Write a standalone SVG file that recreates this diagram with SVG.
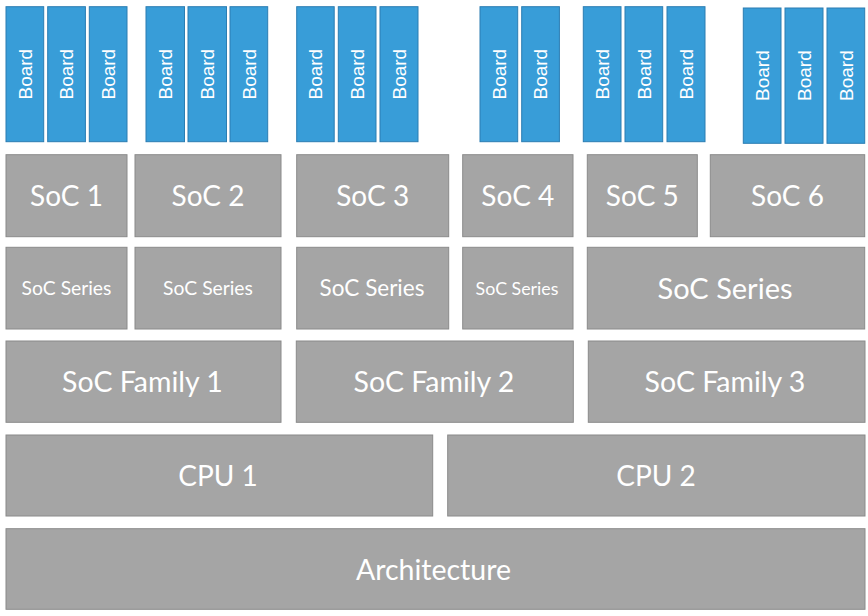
<svg xmlns="http://www.w3.org/2000/svg" width="868" height="616" viewBox="0 0 868 616">
<style>
.b{fill:#389DD8;stroke:#2B7DB2;stroke-width:1}
.g{fill:#A5A5A5;stroke:#8A8A8A;stroke-width:1}
.bt{font-family:"Liberation Sans",Arial,sans-serif;font-size:19px;fill:#fff;text-anchor:middle}
.t{font-family:Lato,"Open Sans",sans-serif;fill:#fff;text-anchor:middle}
</style>
<rect width="868" height="616" fill="#fff"/>
<g id="boards">
<g id="board1"><rect class="b" x="6" y="6.7" width="37.7" height="135"/><text class="bt" transform="translate(24.85,74.2) rotate(-90)" y="6.8">Board</text></g>
<g id="board2"><rect class="b" x="47.7" y="6.7" width="37.7" height="135"/><text class="bt" transform="translate(66.55,74.2) rotate(-90)" y="6.8">Board</text></g>
<g id="board3"><rect class="b" x="89.3" y="6.7" width="37.7" height="135"/><text class="bt" transform="translate(108.15,74.2) rotate(-90)" y="6.8">Board</text></g>
<g id="board4"><rect class="b" x="146" y="6.7" width="38.5" height="135"/><text class="bt" transform="translate(165.25,74.2) rotate(-90)" y="6.8">Board</text></g>
<g id="board5"><rect class="b" x="188" y="6.7" width="38.5" height="135"/><text class="bt" transform="translate(207.25,74.2) rotate(-90)" y="6.8">Board</text></g>
<g id="board6"><rect class="b" x="230" y="6.7" width="37.7" height="135"/><text class="bt" transform="translate(248.85,74.2) rotate(-90)" y="6.8">Board</text></g>
<g id="board7"><rect class="b" x="296.7" y="6.7" width="37.5" height="135"/><text class="bt" transform="translate(315.45,74.2) rotate(-90)" y="6.8">Board</text></g>
<g id="board8"><rect class="b" x="338.3" y="6.7" width="37.7" height="135"/><text class="bt" transform="translate(357.15,74.2) rotate(-90)" y="6.8">Board</text></g>
<g id="board9"><rect class="b" x="380" y="6.7" width="38" height="135"/><text class="bt" transform="translate(399,74.2) rotate(-90)" y="6.8">Board</text></g>
<g id="board10"><rect class="b" x="480" y="6.7" width="37.7" height="135"/><text class="bt" transform="translate(498.85,74.2) rotate(-90)" y="6.8">Board</text></g>
<g id="board11"><rect class="b" x="521.7" y="6.7" width="37.7" height="135"/><text class="bt" transform="translate(540.55,74.2) rotate(-90)" y="6.8">Board</text></g>
<g id="board12"><rect class="b" x="583.3" y="6.7" width="37.7" height="135"/><text class="bt" transform="translate(602.15,74.2) rotate(-90)" y="6.8">Board</text></g>
<g id="board13"><rect class="b" x="625" y="6.7" width="37.7" height="135"/><text class="bt" transform="translate(643.85,74.2) rotate(-90)" y="6.8">Board</text></g>
<g id="board14"><rect class="b" x="667" y="6.7" width="38" height="135"/><text class="bt" transform="translate(686,74.2) rotate(-90)" y="6.8">Board</text></g>
<g id="board15"><rect class="b" x="743.3" y="8" width="37.7" height="135.3"/><text class="bt" transform="translate(762.15,75.6) rotate(-90)" y="6.8">Board</text></g>
<g id="board16"><rect class="b" x="785" y="8" width="38" height="135.3"/><text class="bt" transform="translate(804,75.6) rotate(-90)" y="6.8">Board</text></g>
<g id="board17"><rect class="b" x="827" y="8" width="37.7" height="135.3"/><text class="bt" transform="translate(845.85,75.6) rotate(-90)" y="6.8">Board</text></g>
</g>
<g id="socs">
<g id="soc1"><rect class="g" x="6" y="154.7" width="121" height="82"/><text class="t" x="66.5" y="205.7" font-size="28">SoC 1</text></g>
<g id="soc2"><rect class="g" x="135" y="154.7" width="146" height="82"/><text class="t" x="208" y="205.7" font-size="28">SoC 2</text></g>
<g id="soc3"><rect class="g" x="296.7" y="154.7" width="152" height="82"/><text class="t" x="372.7" y="205.7" font-size="28">SoC 3</text></g>
<g id="soc4"><rect class="g" x="462.7" y="154.7" width="110.3" height="82"/><text class="t" x="517.8" y="205.7" font-size="28">SoC 4</text></g>
<g id="soc5"><rect class="g" x="587.3" y="154.7" width="110" height="82"/><text class="t" x="642.3" y="205.7" font-size="28">SoC 5</text></g>
<g id="soc6"><rect class="g" x="710.3" y="154.7" width="154.4" height="82"/><text class="t" x="787.5" y="205.7" font-size="28">SoC 6</text></g>
</g>
<g id="series">
<g id="series1"><rect class="g" x="6" y="247.3" width="121" height="81.7"/><text class="t" x="66.5" y="295" font-size="19.3">SoC Series</text></g>
<g id="series2"><rect class="g" x="135" y="247.3" width="146" height="81.7"/><text class="t" x="208" y="295" font-size="19.3">SoC Series</text></g>
<g id="series3"><rect class="g" x="296.7" y="247.3" width="152" height="81.7"/><text class="t" x="372" y="296.2" font-size="22.5">SoC Series</text></g>
<g id="series4"><rect class="g" x="462.7" y="247.3" width="110.3" height="81.7"/><text class="t" x="517" y="294.5" font-size="17.8">SoC Series</text></g>
<g id="series5"><rect class="g" x="587.3" y="247.3" width="277.4" height="81.7"/><text class="t" x="725" y="298.5" font-size="29">SoC Series</text></g>
</g>
<g id="families">
<g id="family1"><rect class="g" x="6" y="341" width="275" height="81.3"/><text class="t" x="142.5" y="392" font-size="28.5">SoC Family 1</text></g>
<g id="family2"><rect class="g" x="296.3" y="341" width="277" height="81.3"/><text class="t" x="434" y="392" font-size="28.5">SoC Family 2</text></g>
<g id="family3"><rect class="g" x="588.3" y="341" width="276.7" height="81.3"/><text class="t" x="725" y="392" font-size="28.5">SoC Family 3</text></g>
</g>
<g id="cpus">
<g id="cpu1"><rect class="g" x="6" y="435" width="426.7" height="81"/><text class="t" x="218" y="485.7" font-size="28">CPU 1</text></g>
<g id="cpu2"><rect class="g" x="447.7" y="435" width="417.3" height="81"/><text class="t" x="656" y="485.7" font-size="28">CPU 2</text></g>
</g>
<g id="architecture"><rect class="g" x="6" y="528.7" width="859" height="80.6"/><text class="t" x="433.5" y="579.5" font-size="28.5">Architecture</text></g>
<g id="connectors"/>
</svg>
